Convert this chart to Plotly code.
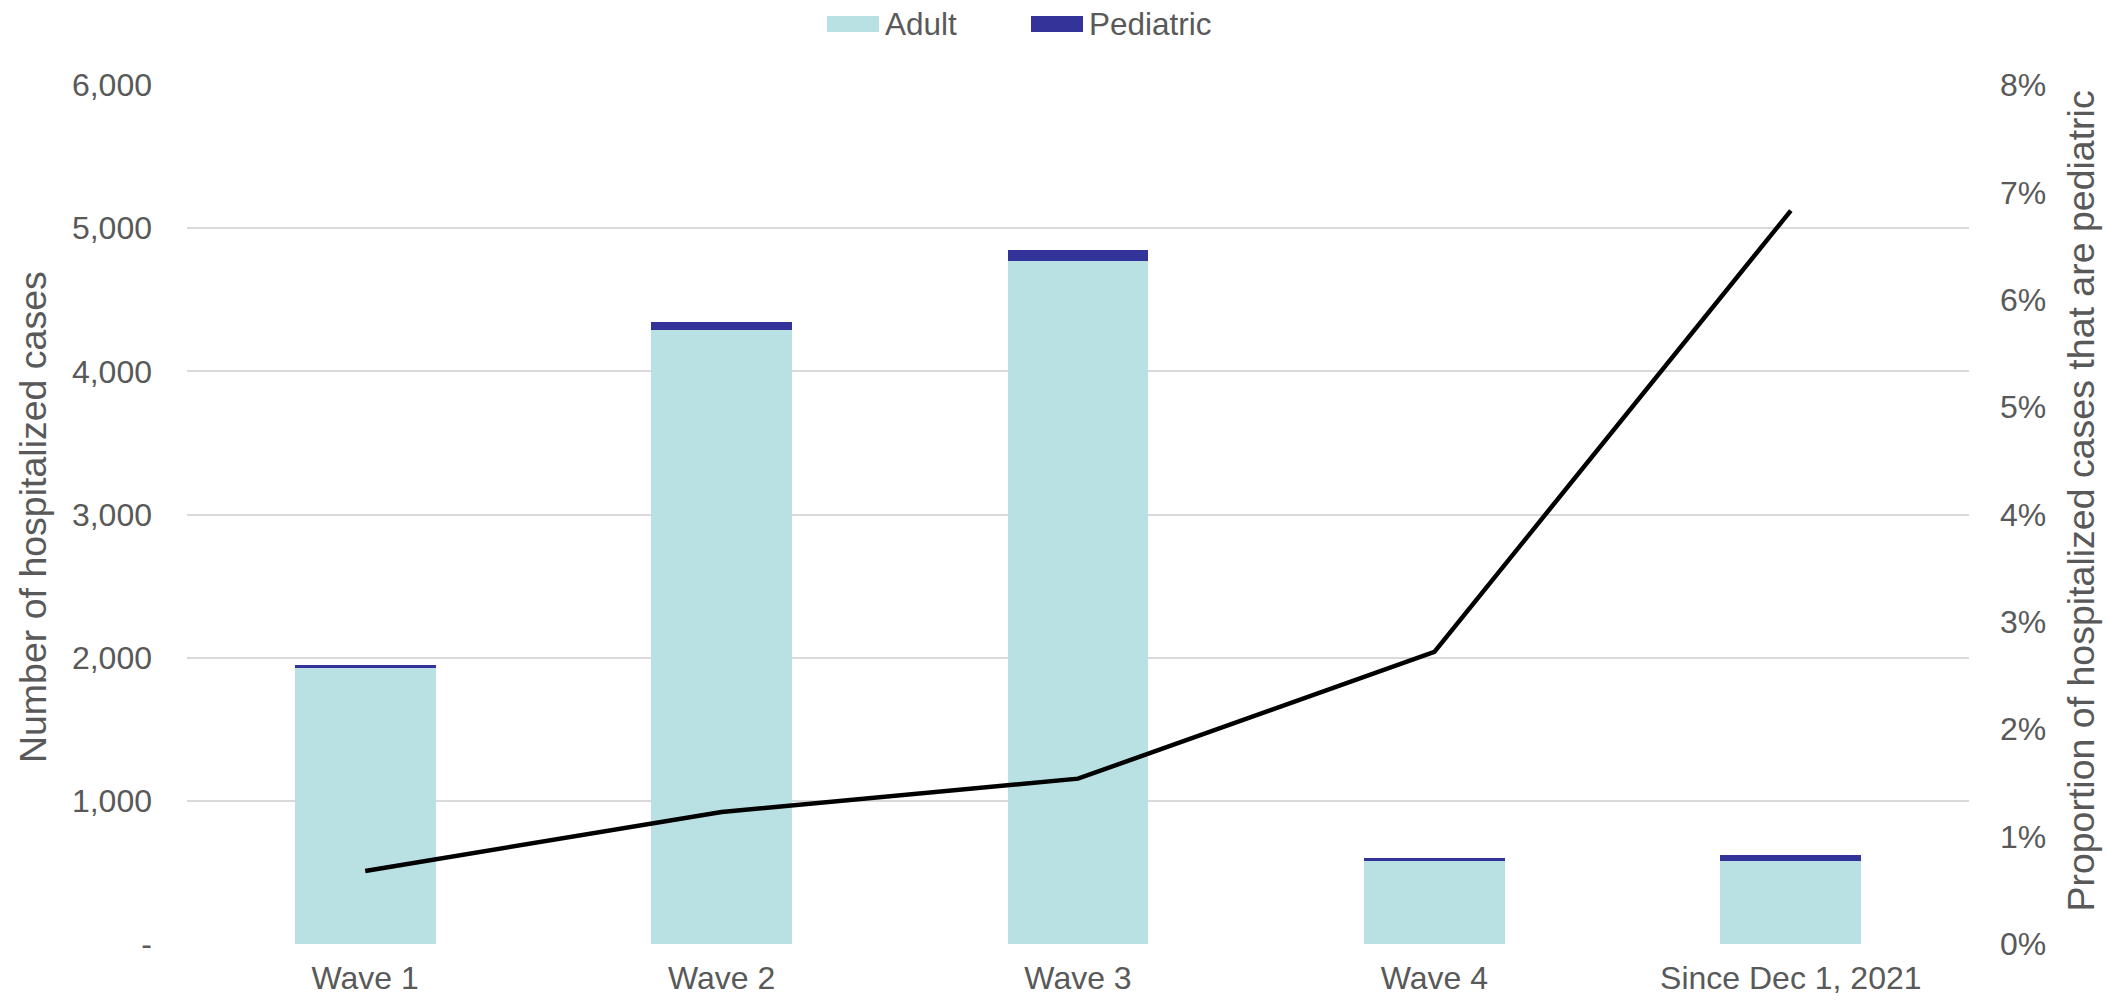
import plotly.graph_objects as go

categories = ["Wave 1", "Wave 2", "Wave 3", "Wave 4", "Since Dec 1, 2021"]
adult = [1933, 4290, 4770, 583, 580]
pediatric = [13, 53, 75, 16, 42]
pct_pediatric = [0.68, 1.23, 1.54, 2.72, 6.83]

left_ticks = [0, 1000, 2000, 3000, 4000, 5000, 6000]
left_ticktext = ["-", "1,000", "2,000", "3,000", "4,000", "5,000", "6,000"]
right_ticks = [0, 1, 2, 3, 4, 5, 6, 7, 8]
right_ticktext = [f"{v}%" for v in right_ticks]

ADULT_C = "#b9e0e3"
PED_C = "#333399"
TXT = "#595959"
FONT = "Liberation Sans, Arial, sans-serif"

W, H = 2126, 1000
ML, MR, MT, MB = 187, 157, 85, 56
PW, PH = W - ML - MR, H - MT - MB

def px_x(x):
    return (x - ML) / PW

def px_y(y):
    return (H - MB - y) / PH

fig = go.Figure()
fig.add_trace(go.Bar(x=categories, y=adult, name="Adult", marker=dict(color=ADULT_C, line=dict(width=0)),
                     showlegend=False))
fig.add_trace(go.Bar(x=categories, y=pediatric, name="Pediatric", marker=dict(color=PED_C, line=dict(width=0)),
                     showlegend=False))
fig.add_trace(go.Scatter(x=categories, y=pct_pediatric, yaxis="y2", mode="lines",
                         line=dict(color="#000000", width=4.5), name="Proportion pediatric",
                         showlegend=False))

fig.update_layout(
    width=W, height=H,
    margin=dict(l=ML, r=MR, t=MT, b=MB, autoexpand=False),
    paper_bgcolor="white", plot_bgcolor="white",
    barmode="stack", bargap=0.605,
    font=dict(family=FONT, color=TXT, size=32),
    xaxis=dict(type="category", range=[-0.5, 4.5], showgrid=False, zeroline=False,
               showline=False, ticks="", tickfont=dict(size=32, color=TXT),
               ticklabelstandoff=12, automargin=False),
    yaxis=dict(range=[0, 6000], tickvals=left_ticks, ticktext=left_ticktext,
               showgrid=True, gridcolor="#d9d9d9", gridwidth=1.5, zeroline=False,
               showline=False, ticks="", tickfont=dict(size=32, color=TXT),
               ticklabelstandoff=34, automargin=False),
    yaxis2=dict(range=[0, 8], tickvals=right_ticks, ticktext=right_ticktext,
                overlaying="y", side="right", showgrid=False, zeroline=False,
                showline=False, ticks="", tickfont=dict(size=32, color=TXT),
                ticklabelstandoff=30, automargin=False),
    showlegend=False,
)

# axis titles
fig.add_annotation(text="Number of hospitalized cases", xref="paper", yref="paper",
                   x=px_x(33), y=0.497, textangle=-90, showarrow=False,
                   xanchor="center", yanchor="middle",
                   font=dict(size=37.5, color=TXT, family=FONT))
fig.add_annotation(text="Proportion of hospitalized cases that are pediatric", xref="paper", yref="paper",
                   x=px_x(2081), y=0.515, textangle=-90, showarrow=False,
                   xanchor="center", yanchor="middle",
                   font=dict(size=37.5, color=TXT, family=FONT))

# legend
legend_items = [("Adult", ADULT_C, 827), ("Pediatric", PED_C, 1031)]
for name, col, x0 in legend_items:
    fig.add_shape(type="rect", xref="paper", yref="paper",
                  x0=px_x(x0), x1=px_x(x0 + 52), y0=px_y(32), y1=px_y(16),
                  fillcolor=col, line=dict(width=0))
    fig.add_annotation(text=name, xref="paper", yref="paper", x=px_x(x0 + 56), y=px_y(24),
                       xanchor="left", yanchor="middle", showarrow=False,
                       font=dict(size=31.5, color=TXT, family=FONT))

fig.write_html("out.html")
